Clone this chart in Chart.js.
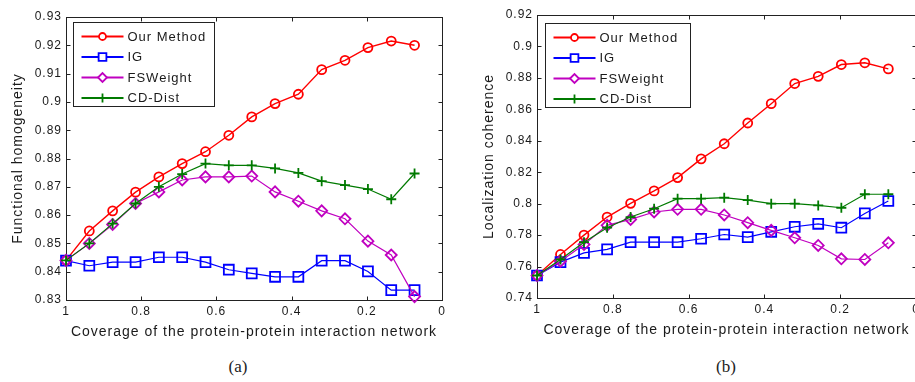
<!DOCTYPE html>
<html><head><meta charset="utf-8">
<script src="https://cdn.jsdelivr.net/npm/chart.js@4/dist/chart.umd.min.js"></script>
<style>
html,body{margin:0;padding:0;background:#fff;overflow:hidden;width:915px;height:382px;}
#ca{position:absolute;left:0;top:0;}
#cb{position:absolute;left:455px;top:0;}
.cap{position:absolute;top:355px;font-family:"Liberation Serif","Times New Roman",serif;font-size:17px;color:#222;width:40px;text-align:center;line-height:24px;}
</style></head><body>
<canvas id="ca" width="455" height="345"></canvas>
<canvas id="cb" width="470" height="345"></canvas>
<div class="cap" style="left:218px">(a)</div>
<div class="cap" style="left:706px">(b)</div>
<script>
// ---- data ----
const coverage = [1, 0.938, 0.876, 0.815, 0.753, 0.691, 0.629, 0.567, 0.506, 0.444, 0.382, 0.320, 0.258, 0.197, 0.135, 0.073];
const seriesNames = ['Our Method', 'IG', 'FSWeight', 'CD-Dist'];

const ourA = [0.8440, 0.8544, 0.8615, 0.8681, 0.8735, 0.8782, 0.8824, 0.8882, 0.8947, 0.8994, 0.9027, 0.9114, 0.9147, 0.9192, 0.9215, 0.9200];
const igA  = [0.8439, 0.8421, 0.8434, 0.8434, 0.8451, 0.8451, 0.8434, 0.8407, 0.8394, 0.8382, 0.8382, 0.8439, 0.8439, 0.8401, 0.8335, 0.8335];
const fsA  = [0.8440, 0.8500, 0.8567, 0.8641, 0.8682, 0.8724, 0.8735, 0.8735, 0.8738, 0.8682, 0.8649, 0.8615, 0.8587, 0.8508, 0.8459, 0.8312];
const cdA  = [0.8440, 0.8500, 0.8570, 0.8641, 0.8700, 0.8745, 0.8782, 0.8776, 0.8776, 0.8765, 0.8749, 0.8720, 0.8706, 0.8692, 0.8656, 0.8747];

const ourB = [0.7543, 0.7677, 0.7800, 0.7915, 0.8002, 0.8081, 0.8166, 0.8285, 0.8381, 0.8513, 0.8636, 0.8764, 0.8810, 0.8885, 0.8896, 0.8857];
const igB  = [0.7543, 0.7628, 0.7687, 0.7709, 0.7755, 0.7755, 0.7755, 0.7777, 0.7804, 0.7787, 0.7821, 0.7853, 0.7872, 0.7847, 0.7938, 0.8017];
const fsB  = [0.7543, 0.7634, 0.7740, 0.7862, 0.7900, 0.7947, 0.7964, 0.7964, 0.7928, 0.7879, 0.7830, 0.7783, 0.7734, 0.7649, 0.7645, 0.7751];
const cdB  = [0.7543, 0.7645, 0.7755, 0.7847, 0.7915, 0.7968, 0.8032, 0.8032, 0.8038, 0.8023, 0.8000, 0.8000, 0.7989, 0.7974, 0.8060, 0.8060];

const xTicks = [0, 0.2, 0.4, 0.6, 0.8, 1];
const xTickLabels = ['0', '0.2', '0.4', '0.6', '0.8', '1'];
const yTicksA = [0.83, 0.84, 0.85, 0.86, 0.87, 0.88, 0.89, 0.90, 0.91, 0.92, 0.93];
const yTickLabelsA = ['0.83', '0.84', '0.85', '0.86', '0.87', '0.88', '0.89', '0.9', '0.91', '0.92', '0.93'];
const yTicksB = [0.74, 0.76, 0.78, 0.80, 0.82, 0.84, 0.86, 0.88, 0.90, 0.92];
const yTickLabelsB = ['0.74', '0.76', '0.78', '0.8', '0.82', '0.84', '0.86', '0.88', '0.9', '0.92'];

const xTitle = 'Coverage of the protein-protein interaction network';
const yTitleA = 'Functional homogeneity';
const yTitleB = 'Localization coherence';

// ---- styles ----
const styles = [
  {color: '#ff0000', pointStyle: 'circle', radius: 4.5, lw: 1.4, legendR: 3.5},
  {color: '#0000ff', pointStyle: 'rect', radius: 7, lw: 1.2, legendR: 5.5},
  {color: '#c000c0', pointStyle: 'rectRot', radius: 5.5, lw: 1.2, legendR: 4.5},
  {color: '#007a00', pointStyle: 'cross', radius: 5, lw: 1.2, legendR: 4.5}
];
const FONT = '"Liberation Sans", Arial, sans-serif';

const framePlugin = {
  id: 'frame',
  beforeDraw(chart) { chart.ctx.letterSpacing = '1px'; },
  beforeDatasetsDraw(chart) {
    const {ctx, chartArea: a, scales: {x, y}} = chart;
    ctx.save();
    ctx.strokeStyle = '#222'; ctx.lineWidth = 1;
    const L = Math.round(a.left) + 0.5, R = Math.round(a.right) + 0.5;
    const T = Math.round(a.top) + 0.5, B = Math.round(a.bottom) + 0.5;
    ctx.strokeRect(L, T, R - L, B - T);
    const TL = 4;
    ctx.beginPath();
    x.ticks.forEach(t => {
      const px = Math.round(x.getPixelForValue(t.value)) + 0.5;
      ctx.moveTo(px, B); ctx.lineTo(px, B - TL);
      ctx.moveTo(px, T); ctx.lineTo(px, T + TL);
    });
    y.ticks.forEach(t => {
      const py = Math.round(y.getPixelForValue(t.value)) + 0.5;
      ctx.moveTo(L, py); ctx.lineTo(L + TL, py);
      ctx.moveTo(R, py); ctx.lineTo(R - TL, py);
    });
    ctx.stroke();
    ctx.restore();
  },
  afterDraw(chart, args, opts) {
    const {ctx, chartArea: a} = chart;
    ctx.save();
    ctx.letterSpacing = '1px';
    const bx = Math.round(a.left + opts.dx) + 0.5, by = Math.round(a.top + opts.dy) + 0.5;
    ctx.fillStyle = '#fff';
    ctx.fillRect(bx, by, opts.w, opts.h);
    ctx.strokeStyle = '#222'; ctx.lineWidth = 1;
    ctx.strokeRect(bx, by, opts.w, opts.h);
    ctx.font = '13px ' + FONT;
    ctx.textBaseline = 'middle';
    chart.data.datasets.forEach((ds, i) => {
      const st = styles[i];
      const cy = by + 14 + i * 20.5;
      const x0 = bx + 8, x1 = bx + 50;
      ctx.strokeStyle = st.color; ctx.lineWidth = 2;
      ctx.beginPath(); ctx.moveTo(x0, cy); ctx.lineTo(x1, cy); ctx.stroke();
      ctx.fillStyle = '#fff';
      ctx.lineWidth = 1.8;
      Chart.helpers.drawPoint(ctx, {pointStyle: st.pointStyle, radius: st.legendR, borderWidth: 1.8, rotation: 0}, (x0 + x1) / 2, cy);
      ctx.fillStyle = '#1a1a1a';
      ctx.fillText(ds.label, x1 + 4, cy + 0.5);
    });
    ctx.restore();
  }
};

function makeChart(id, series, yTicks, yLabels, yTitle, geo) {
  const datasets = series.map((vals, i) => ({
    label: seriesNames[i],
    data: coverage.map((c, k) => ({x: c, y: vals[k]})),
    borderColor: styles[i].color,
    backgroundColor: 'rgba(0,0,0,0)',
    borderWidth: styles[i].lw,
    pointStyle: styles[i].pointStyle,
    pointRadius: styles[i].radius,
    pointBorderWidth: 1.8,
    pointBorderColor: styles[i].color,
    pointBackgroundColor: 'rgba(0,0,0,0)',
    tension: 0,
    clip: false,
    order: 4 - i
  }));
  return new Chart(document.getElementById(id), {
    type: 'line',
    data: {datasets},
    plugins: [framePlugin],
    options: {
      responsive: false,
      animation: false,
      events: [],
      layout: {padding: {left: 0, top: geo.top, right: geo.right, bottom: 0}},
      plugins: {
        legend: {display: false},
        tooltip: {enabled: false},
        frame: {dx: geo.ldx, dy: geo.ldy, w: geo.lw, h: 84}
      },
      scales: {
        x: {
          type: 'linear', reverse: true, min: 0, max: 1,
          afterBuildTicks: s => { s.ticks = xTicks.map(v => ({value: v})); },
          afterFit: s => { s.height = geo.xh; },
          grid: {display: false, drawTicks: false},
          border: {display: false},
          ticks: {padding: 4, color: '#1a1a1a', font: {family: FONT, size: 12},
                  callback: (v, i) => xTickLabels[i], maxRotation: 0, autoSkip: false},
          title: {display: true, text: xTitle, color: '#1a1a1a', font: {family: FONT, size: 14},
                  padding: {top: 0, bottom: geo.xtp}}
        },
        y: {
          type: 'linear', min: yTicks[0], max: yTicks[yTicks.length - 1],
          afterBuildTicks: s => { s.ticks = yTicks.map(v => ({value: v})); },
          afterFit: s => { s.width = geo.yw; },
          grid: {display: false, drawTicks: false},
          border: {display: false},
          ticks: {padding: 4, color: '#1a1a1a', font: {family: FONT, size: 12},
                  callback: (v, i) => yLabels[i], autoSkip: false},
          title: {display: true, text: yTitle, color: '#1a1a1a', font: {family: FONT, size: 14},
                  padding: {top: geo.ytp, bottom: 0}}
        }
      }
    }
  });
}

makeChart('ca', [ourA, igA, fsA, cdA], yTicksA, yTickLabelsA, yTitleA,
  {top: 17, right: 13, xh: 45, yw: 66, xtp: 4.6, ytp: 9.6, ldx: 6.5, ldy: 4.5, lw: 141});
makeChart('cb', [ourB, igB, fsB, cdB], yTicksB, yTickLabelsB, yTitleB,
  {top: 15, right: 9, xh: 47, yw: 82, xtp: 6.6, ytp: 25.6, ldx: 8, ldy: 7.5, lw: 145});
</script>
</body></html>
